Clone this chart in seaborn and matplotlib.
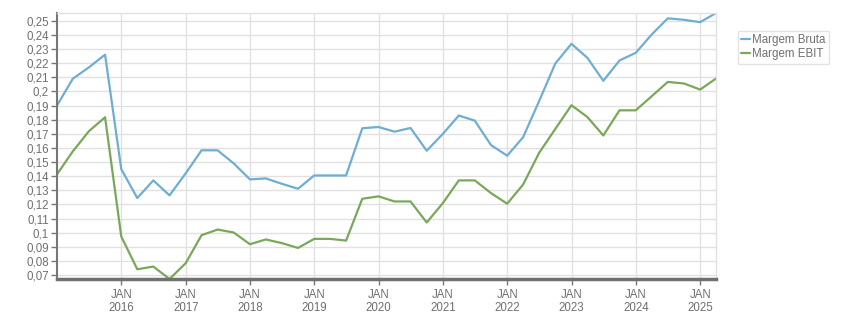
import matplotlib
matplotlib.use("Agg")
import matplotlib.pyplot as plt
import matplotlib.dates as mdates
import matplotlib.ticker as mticker
import seaborn as sns
import pandas as pd
import numpy as np

# Quarterly data (quarter ends), Dec 2014 .. Mar 2025
quarters = pd.date_range("2014-12-31", periods=42, freq="QE")

margem_bruta = [
    0.190, 0.209, 0.217, 0.226, 0.145, 0.1245, 0.137, 0.1264, 0.142, 0.1583,
    0.1583, 0.149, 0.1377, 0.1384, 0.1346, 0.1311, 0.1405, 0.1405, 0.1405, 0.1739,
    0.1748, 0.1715, 0.1741, 0.158, 0.170, 0.1829, 0.1793, 0.162, 0.1545, 0.1675,
    0.193, 0.2197, 0.2337, 0.2238, 0.2075, 0.2219, 0.2273, 0.2403, 0.2517, 0.2507,
    0.249, 0.2555,
]
margem_ebit = [
    0.1413, 0.1576, 0.1718, 0.1817, 0.0973, 0.0741, 0.0760, 0.0672, 0.0784, 0.0982,
    0.1022, 0.1001, 0.0918, 0.0952, 0.0926, 0.0892, 0.0956, 0.0956, 0.0944, 0.1240,
    0.1257, 0.1221, 0.1221, 0.1072, 0.1210, 0.1370, 0.1370, 0.1280, 0.1205, 0.1340,
    0.1564, 0.1734, 0.1902, 0.1819, 0.1688, 0.1866, 0.1866, 0.1966, 0.2067, 0.2056,
    0.2013, 0.2091,
]
tick_years = [2016, 2017, 2018, 2019, 2020, 2021, 2022, 2023, 2024, 2025]
series_names = ["Margem Bruta", "Margem EBIT"]
colors = ["#6eaed3", "#7aa85a"]

df = pd.DataFrame({
    "date": list(quarters) * 2,
    "value": margem_bruta + margem_ebit,
    "serie": [series_names[0]] * len(quarters) + [series_names[1]] * len(quarters),
})

sns.set_theme(style="white")
plt.rcParams["font.family"] = ["Liberation Sans", "DejaVu Sans"]

fig = plt.figure(figsize=(8.51, 3.13), dpi=100)
ax = fig.add_axes([57 / 851, 1 - 279 / 313, (716 - 57) / 851, (279 - 13) / 313])

sns.lineplot(data=df, x="date", y="value", hue="serie", palette=colors,
             linewidth=1.6, ax=ax, legend=True)

ax.set_xlim(quarters[0], quarters[-1])
allv = margem_bruta + margem_ebit
ax.set_ylim(min(allv), max(allv))

ax.yaxis.set_major_locator(mticker.MultipleLocator(0.01))
ax.yaxis.set_major_formatter(mticker.FuncFormatter(
    lambda v, p: (f"{v:.2f}".rstrip("0").rstrip(".")).replace(".", ",")))
ax.set_xticks([pd.Timestamp(f"{y}-01-01") for y in tick_years])
ax.set_xticklabels([f"JAN\n{y}" for y in tick_years])

ax.grid(True, color="#e1e1e1", linewidth=1.0)
ax.set_axisbelow(True)
for s in ["top", "right"]:
    ax.spines[s].set_visible(True)
    ax.spines[s].set_color("#e1e1e1")
    ax.spines[s].set_linewidth(1.0)
ax.spines["left"].set_color("#777777")
ax.spines["left"].set_linewidth(1.5)
ax.spines["bottom"].set_color("#707070")
ax.spines["bottom"].set_linewidth(2.5)

ax.tick_params(axis="both", which="major", length=4, width=1, color="#777777",
               labelcolor="#6f6f6f", labelsize=8.3, pad=2, left=True, bottom=True,
               top=False, right=False)
ax.tick_params(axis="x", pad=3)
for lab in ax.get_xticklabels():
    lab.set_linespacing(1.15)
ax.set_xlabel("")
ax.set_ylabel("")

leg = ax.legend(loc="upper left", bbox_to_anchor=(738 / 851, 1 - 31 / 313),
                bbox_transform=fig.transFigure, frameon=True, fontsize=8.3,
                handlelength=0.7, handletextpad=0.2, borderpad=0.3,
                labelspacing=0.15, fancybox=False, borderaxespad=0)
leg.get_frame().set_edgecolor("#dddddd")
leg.get_frame().set_linewidth(1.0)
for t in leg.get_texts():
    t.set_color("#6f6f6f")

fig.savefig("out.png", dpi=100)
